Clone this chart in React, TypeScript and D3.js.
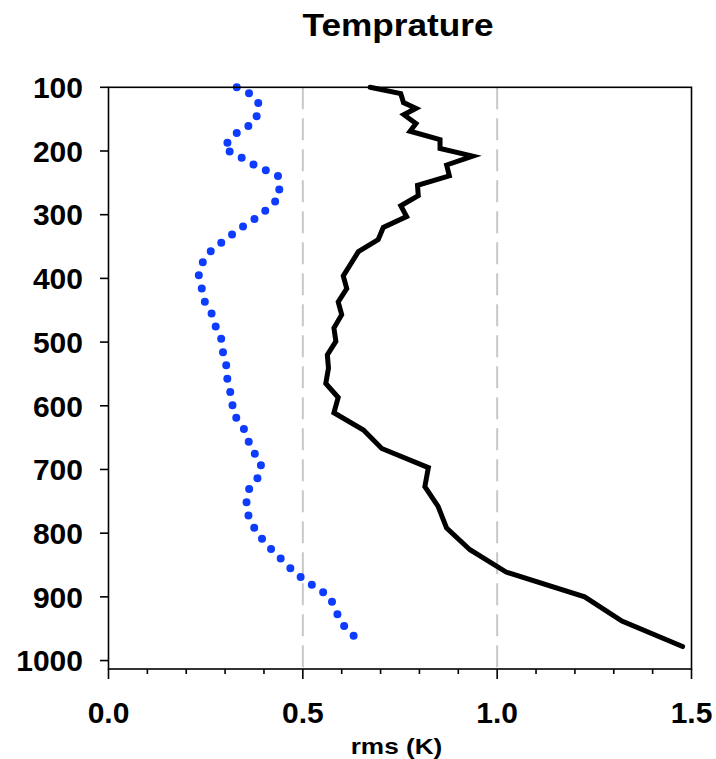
import React from "react";
import * as d3 from "d3";

const pressureBlack = [100, 110, 124, 133, 143, 157, 169, 182, 196, 208, 222, 239, 254, 270, 286, 303, 320, 339, 358, 396, 416, 437, 457, 478, 499, 520, 541, 565, 587, 611, 638, 667, 697, 727, 758, 792, 826, 861, 900, 938, 978];
const rmsBlack = [0.673, 0.752, 0.759, 0.791, 0.760, 0.791, 0.776, 0.853, 0.853, 0.937, 0.870, 0.877, 0.795, 0.797, 0.752, 0.767, 0.707, 0.694, 0.643, 0.604, 0.613, 0.591, 0.600, 0.580, 0.585, 0.563, 0.566, 0.559, 0.591, 0.580, 0.656, 0.703, 0.823, 0.814, 0.848, 0.870, 0.930, 1.023, 1.225, 1.321, 1.477];

const pressureBlue = [100, 110, 126, 143, 157, 169, 182, 196, 208, 222, 239, 254, 272, 288, 303, 320, 339, 358, 374, 394, 416, 437, 457, 478, 499, 520, 541, 565, 587, 611, 638, 667, 690, 710, 730, 755, 775, 800, 826, 861, 872, 900, 920, 943, 965];
const rmsBlue = [0.330, 0.364, 0.387, 0.383, 0.372, 0.335, 0.312, 0.296, 0.335, 0.375, 0.436, 0.439, 0.440, 0.415, 0.385, 0.342, 0.300, 0.262, 0.243, 0.232, 0.240, 0.248, 0.267, 0.277, 0.293, 0.295, 0.305, 0.306, 0.318, 0.320, 0.350, 0.367, 0.393, 0.388, 0.362, 0.354, 0.361, 0.382, 0.420, 0.478, 0.501, 0.570, 0.583, 0.602, 0.637];

const yTicks = [100, 200, 300, 400, 500, 600, 700, 800, 900, 1000];
const xTicks = [0.0, 0.5, 1.0, 1.5];
const xMinor = [0.1, 0.2, 0.3, 0.4, 0.6, 0.7, 0.8, 0.9, 1.1, 1.2, 1.3, 1.4];
const gridValues = [0.5, 1.0];

const title = "Temprature";
const xTitle = "rms (K)";

export default function App() {
  const W = 716, H = 759;
  const left = 108.5, right = 691.5, top = 87.3, bottom = 669;
  const x = d3.scaleLinear().domain([0, 1.5]).range([left, right]);
  const y = d3.scaleLinear().domain([100, 1013.25]).range([top, bottom]);
  const font = "'Liberation Sans', Arial, sans-serif";

  const lineGen = d3.line<[number, number]>().x(d => x(d[0])).y(d => y(d[1]));
  const blackPts: [number, number][] = rmsBlack.map((v, i) => [v, pressureBlack[i]]);
  const bluePts: [number, number][] = rmsBlue.map((v, i) => [v, pressureBlue[i]]);

  return (
    <svg width={W} height={H} style={{ position: "absolute", left: 0, top: 0, background: "#fff" }} fontFamily={font}>
      <rect x={0} y={0} width={W} height={H} fill="#fff" />
      <text transform="translate(398,36) scale(1.1,1)" textAnchor="middle" fontSize={32} fontWeight="bold">{title}</text>
      {gridValues.map(g => (
        <line key={g} x1={x(g)} x2={x(g)} y1={top} y2={bottom} stroke="#c8c8c8" strokeWidth={2} strokeDasharray="22,9" />
      ))}
      <path d={lineGen(bluePts) || ""} fill="none" stroke="#0d3cff" strokeWidth={8} strokeLinecap="round" strokeDasharray="0,13.6" />
      <path d={lineGen(blackPts) || ""} fill="none" stroke="#000" strokeWidth={5} strokeLinejoin="miter" strokeLinecap="round" />
      <rect x={left} y={top} width={right - left} height={bottom - top} fill="none" stroke="#000" strokeWidth={1.6} />
      {yTicks.map(t => (
        <g key={t}>
          <line x1={left - 8.5} x2={left} y1={y(t)} y2={y(t)} stroke="#000" strokeWidth={1.6} />
          <text x={83} y={y(t)} dy="0.36em" textAnchor="end" fontSize={30} fontWeight="bold">{t}</text>
        </g>
      ))}
      {xMinor.map(t => (
        <line key={t} x1={x(t)} x2={x(t)} y1={bottom} y2={bottom + 5} stroke="#000" strokeWidth={1.6} />
      ))}
      {xTicks.map(t => (
        <g key={t}>
          <line x1={x(t)} x2={x(t)} y1={bottom} y2={bottom + 10} stroke="#000" strokeWidth={1.6} />
          <text x={x(t)} y={723} textAnchor="middle" fontSize={30} fontWeight="bold">{t.toFixed(1)}</text>
        </g>
      ))}
      <text transform="translate(396.5,754) scale(1.19,1)" textAnchor="middle" fontSize={22} fontWeight="bold">{xTitle}</text>
    </svg>
  );
}
